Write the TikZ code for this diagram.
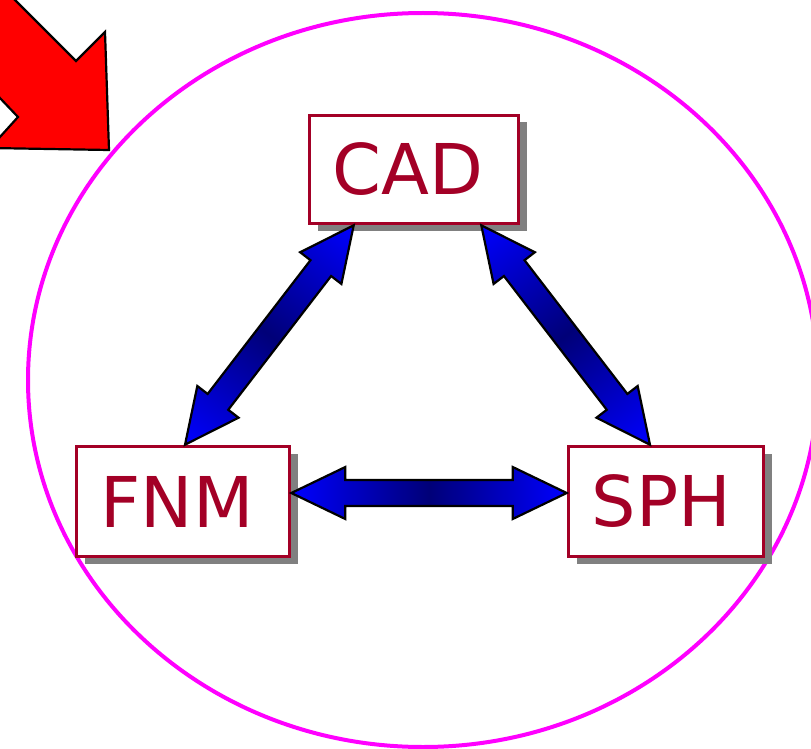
\documentclass[tikz,border=0pt]{standalone}
\usepackage{fontspec}
\setmainfont{DejaVu Sans}
\usetikzlibrary{calc,shadows}
\definecolor{boxred}{RGB}{163,0,38}
\definecolor{arrnavy}{RGB}{0,0,120}
\definecolor{arrblue}{RGB}{0,0,255}
\definecolor{shadowgray}{RGB}{128,128,128}
\definecolor{ringmag}{RGB}{255,0,255}
\definecolor{bigred}{RGB}{255,0,0}
\newcommand\dblarrow[2]{%
  \path let \p1=($(#2)-(#1)$) in \pgfextra{%
    \pgfmathsetmacro\tmpang{atan2(\y1,\x1)}\global\let\arAng\tmpang
    \pgfmathsetmacro\tmplen{veclen(\x1,\y1)}\global\let\arLen\tmplen};
  \begin{scope}[transform canvas={shift={(#1)},rotate=\arAng}]
    \shadedraw[dblarr] (0,0) -- (54,26) -- (54,13) -- (\arLen-54,13) -- (\arLen-54,26)
      -- (\arLen,0) -- (\arLen-54,-26) -- (\arLen-54,-13) -- (54,-13) -- (54,-26) -- cycle;
  \end{scope}}
\begin{document}
\begin{tikzpicture}[x=1pt,y=1pt,
  labelbox/.style={draw=boxred, line width=3.6pt, fill=white, text=boxred,
    font=\fontsize{70}{84}\selectfont, inner sep=0pt,
    drop shadow={shadow xshift=8pt, shadow yshift=-7pt, fill=shadowgray, opacity=1}},
  dblarr/.style={draw=black, line width=2.2pt, line join=miter,
    left color=arrblue, right color=arrblue, middle color=arrnavy},
  ring/.style={draw=ringmag, line width=4pt},
  bigarrow/.style={fill=bigred, draw=black, line width=2.2pt, line join=miter}]
\useasboundingbox (0,0) rectangle (811,-749);
\clip (0,0) rectangle (811,-749);
\draw[ring] (423,-380) ellipse [x radius=395, y radius=367];
\draw[bigarrow] (-20,35) -- (76,-61) -- (105,-32) -- (109,-150) -- (-10,-148)
  -- (18,-117) -- (-40,-56) -- cycle;
\node[labelbox, minimum width=209, minimum height=108] (CAD) at (414,-169.5) {CAD\kern12pt};
\node[labelbox, minimum width=213, minimum height=110] (FNM) at (183,-501.5) {FNM\kern12pt};
\node[labelbox, minimum width=195, minimum height=110] (SPH) at (666,-501.5) {SPH\kern9pt};
\coordinate (cadL) at ($(CAD.south west)+(46,0)$);
\coordinate (cadR) at ($(CAD.south east)+(-39,0)$);
\coordinate (fnmT) at ($(FNM.north)+(2,0)$);
\coordinate (sphT) at ($(SPH.north)+(-16,0)$);
\coordinate (fnmR) at ($(FNM.east)+(0,8.5)$);
\coordinate (sphL) at ($(SPH.west)+(0,8.5)$);
\dblarrow{cadL}{fnmT}
\dblarrow{cadR}{sphT}
\dblarrow{fnmR}{sphL}
\end{tikzpicture}
\end{document}
